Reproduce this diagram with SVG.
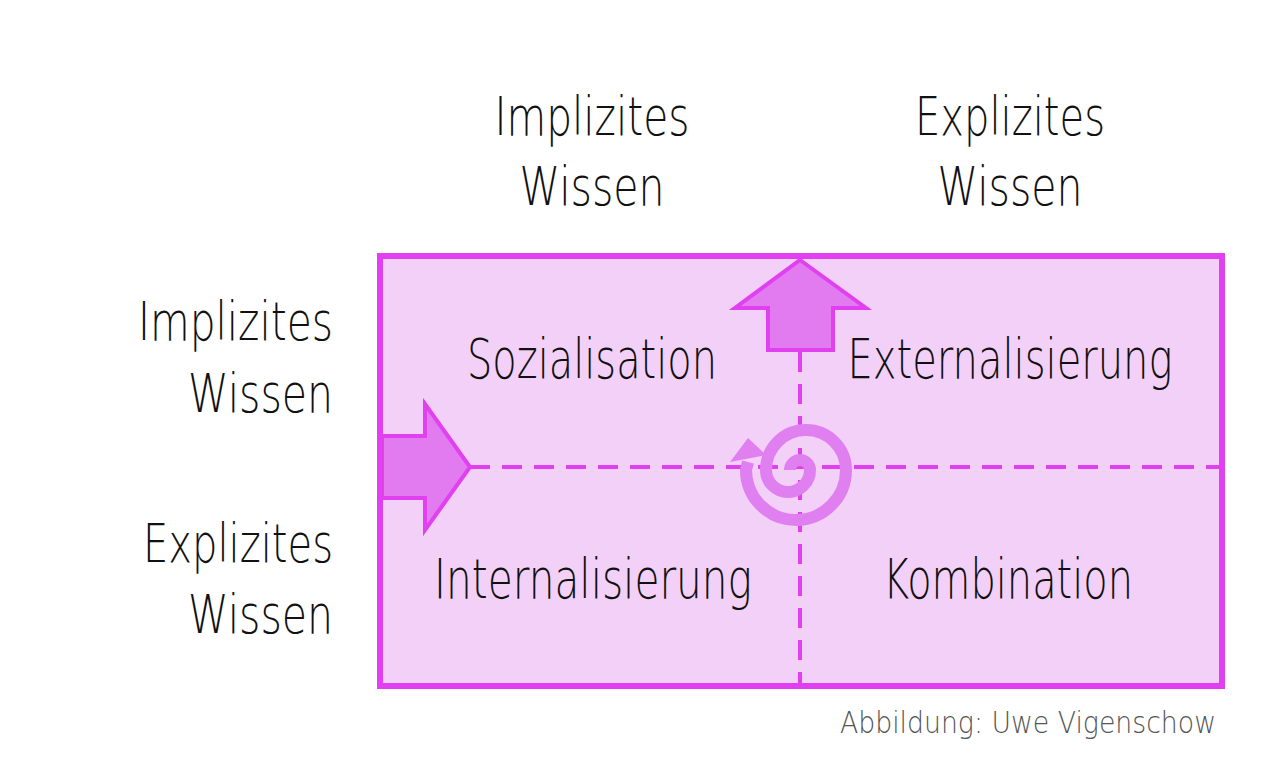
<svg xmlns="http://www.w3.org/2000/svg" width="1276" height="774" viewBox="0 0 1276 774">
<style>
text{font-family:"DejaVu Sans","Liberation Sans",sans-serif;font-weight:200;fill:#111}
.h{font-size:54px}
.q{font-size:56px;font-weight:300;text-anchor:middle}
.arr{fill:#e27af0;stroke:#e040f0;stroke-width:4}
.d{stroke:#e040f0;stroke-width:4;stroke-dasharray:20 12;fill:none}
</style>
<rect width="1276" height="774" fill="#fff"/>
<g id="matrix"><rect x="380" y="256" width="842" height="430" fill="#f3d0f8" stroke="#e040f0" stroke-width="6"/></g>
<g id="connectors">
<path class="d" d="M470 467H1220M800 352V684"/>
<path d="M790,470 A10,10 0 0 1 810,470 A22,22 0 0 1 766,470 A40,40 0 0 1 846,470 A50,50 0 0 1 746,470 L748,462" fill="none" stroke="#e07ff0" stroke-width="12"/>
<path d="M730,462 L748,438 L766,455 Z" fill="#e07ff0"/>
</g>
<g id="arrow-up"><path class="arr" d="M800,260 L866,308 L833,308 L833,350 L768,350 L768,308 L735,308 Z"/></g>
<g id="arrow-right"><path class="arr" d="M382,436 L425,436 L425,404 L470,467 L425,530 L425,498 L382,498 Z"/></g>
<g id="col1"><text class="h" x="592" y="135" text-anchor="middle" textLength="195" lengthAdjust="spacingAndGlyphs">Implizites</text><text class="h" x="592" y="205" text-anchor="middle" textLength="145" lengthAdjust="spacingAndGlyphs">Wissen</text></g>
<g id="col2"><text class="h" x="1010" y="135" text-anchor="middle" textLength="190" lengthAdjust="spacingAndGlyphs">Explizites</text><text class="h" x="1010" y="205" text-anchor="middle" textLength="145" lengthAdjust="spacingAndGlyphs">Wissen</text></g>
<g id="row1"><text class="h" x="333" y="340" text-anchor="end" textLength="195" lengthAdjust="spacingAndGlyphs">Implizites</text><text class="h" x="333" y="412" text-anchor="end" textLength="145" lengthAdjust="spacingAndGlyphs">Wissen</text></g>
<g id="row2"><text class="h" x="333" y="562" text-anchor="end" textLength="190" lengthAdjust="spacingAndGlyphs">Explizites</text><text class="h" x="333" y="633" text-anchor="end" textLength="145" lengthAdjust="spacingAndGlyphs">Wissen</text></g>
<g id="q1"><text class="q" x="592" y="378" textLength="250" lengthAdjust="spacingAndGlyphs">Sozialisation</text></g>
<g id="q2"><text class="q" x="1010" y="378" textLength="325" lengthAdjust="spacingAndGlyphs">Externalisierung</text></g>
<g id="q3"><text class="q" x="593" y="598" textLength="318" lengthAdjust="spacingAndGlyphs">Internalisierung</text></g>
<g id="q4"><text class="q" x="1008" y="598" textLength="250" lengthAdjust="spacingAndGlyphs">Kombination</text></g>
<text x="1216" y="733" text-anchor="end" font-size="31" style="fill:#555" textLength="376" lengthAdjust="spacingAndGlyphs">Abbildung: Uwe Vigenschow</text>
</svg>
